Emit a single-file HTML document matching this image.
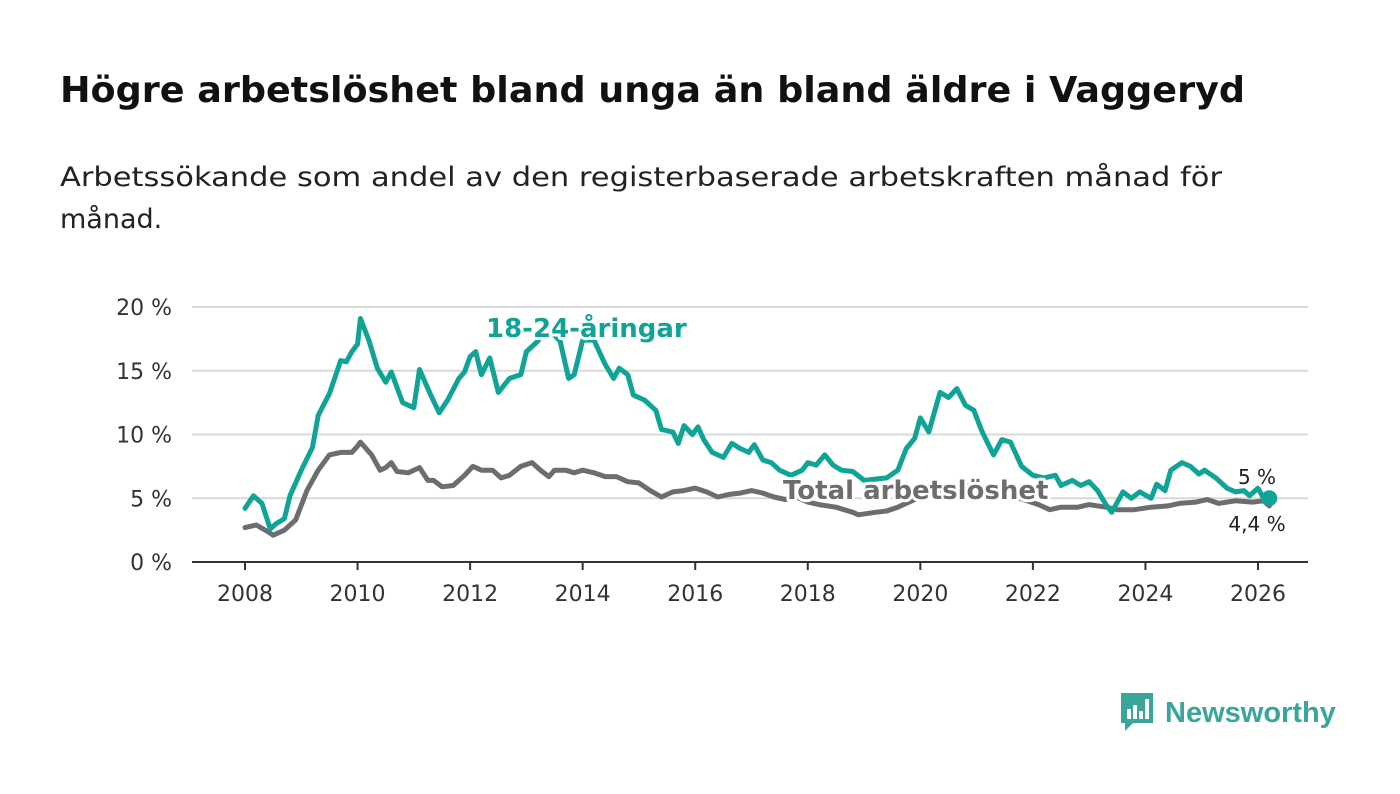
<!DOCTYPE html>
<html><head><meta charset="utf-8"><style>
body{margin:0;width:1400px;height:794px;background:#fff;font-family:"DejaVu Sans","Liberation Sans",sans-serif;overflow:hidden;position:relative}
svg text{font-family:"DejaVu Sans","Liberation Sans",sans-serif}
</style></head><body>
<svg width="1400" height="240" style="position:absolute;left:0;top:0">
<text x="60" y="102" font-size="36" font-weight="bold" fill="#111" textLength="1185" lengthAdjust="spacingAndGlyphs">Högre arbetslöshet bland unga än bland äldre i Vaggeryd</text>
<text x="60" y="186" font-size="27" fill="#222" textLength="1162" lengthAdjust="spacingAndGlyphs">Arbetssökande som andel av den registerbaserade arbetskraften månad för</text>
<text x="60" y="228" font-size="27" fill="#222">månad.</text>
</svg>
<svg id="chart" width="1400" height="794" style="position:absolute;left:0;top:0"></svg>
<div style="position:absolute;left:1119px;top:691px;height:44px;display:flex;align-items:center">
<svg width="36" height="44"><path d="M2 2h32v30H14l-8 8v-8H2z" fill="#3aa59a"/><rect x="8" y="18" width="4" height="10" fill="#fff"/><rect x="14" y="14" width="4" height="14" fill="#fff"/><rect x="20" y="20" width="4" height="8" fill="#fff"/><rect x="26" y="8" width="4" height="20" fill="#fff"/></svg>
<span style="margin-left:10px;font-family:'Liberation Sans',sans-serif;font-size:29px;font-weight:bold;color:#3aa59a">Newsworthy</span></div>
<script>
const yTicks=[0,5,10,15,20];
const xTicks=[2008,2010,2012,2014,2016,2018,2020,2022,2024,2026];
const youthDates=[2008.0,2008.15,2008.3,2008.45,2008.55,2008.7,2008.8,2009.0,2009.2,2009.3,2009.5,2009.7,2009.8,2009.9,2010.0,2010.05,2010.2,2010.35,2010.5,2010.6,2010.8,2011.0,2011.1,2011.3,2011.45,2011.6,2011.8,2011.9,2012.0,2012.1,2012.2,2012.35,2012.5,2012.7,2012.9,2013.0,2013.2,2013.35,2013.6,2013.75,2013.85,2014.0,2014.2,2014.4,2014.55,2014.65,2014.8,2014.9,2015.1,2015.3,2015.4,2015.6,2015.7,2015.8,2015.95,2016.05,2016.15,2016.3,2016.5,2016.65,2016.8,2016.95,2017.05,2017.2,2017.35,2017.5,2017.7,2017.9,2018.0,2018.15,2018.3,2018.45,2018.6,2018.8,2019.0,2019.4,2019.6,2019.75,2019.9,2020.0,2020.15,2020.35,2020.5,2020.65,2020.8,2020.95,2021.1,2021.3,2021.45,2021.6,2021.8,2022.0,2022.2,2022.4,2022.5,2022.7,2022.85,2023.0,2023.15,2023.3,2023.4,2023.6,2023.75,2023.9,2024.1,2024.2,2024.35,2024.45,2024.65,2024.8,2024.95,2025.05,2025.25,2025.45,2025.6,2025.75,2025.85,2026.0,2026.1,2026.2];
const youthValues=[4.2,5.2,4.6,2.6,3.0,3.4,5.2,7.2,9,11.5,13.2,15.8,15.7,16.5,17.1,19.1,17.4,15.2,14.1,14.9,12.5,12.1,15.1,13.1,11.7,12.7,14.4,14.9,16.1,16.5,14.7,16,13.3,14.4,14.7,16.5,17.3,18.5,17.3,14.4,14.7,17.4,17.4,15.5,14.4,15.2,14.7,13.1,12.7,11.9,10.4,10.2,9.3,10.7,10,10.6,9.6,8.6,8.2,9.3,8.9,8.6,9.2,8,7.8,7.2,6.8,7.2,7.8,7.6,8.4,7.6,7.2,7.1,6.4,6.6,7.2,8.9,9.7,11.3,10.2,13.3,12.9,13.6,12.3,11.9,10.2,8.4,9.6,9.4,7.5,6.8,6.6,6.8,6,6.4,6,6.3,5.6,4.5,3.9,5.5,5,5.5,5,6.1,5.6,7.2,7.8,7.5,6.9,7.2,6.6,5.8,5.5,5.6,5.2,5.8,5.0,5.0];
const totalDates=[2008.0,2008.2,2008.4,2008.5,2008.7,2008.9,2009.1,2009.3,2009.5,2009.7,2009.9,2010.0,2010.05,2010.25,2010.4,2010.5,2010.6,2010.7,2010.9,2011.1,2011.25,2011.35,2011.5,2011.7,2011.9,2012.05,2012.2,2012.4,2012.55,2012.7,2012.9,2013.1,2013.25,2013.4,2013.5,2013.7,2013.85,2014.0,2014.2,2014.4,2014.6,2014.8,2015.0,2015.2,2015.4,2015.6,2015.8,2016.0,2016.2,2016.4,2016.6,2016.8,2017.0,2017.2,2017.4,2017.6,2017.8,2018.0,2018.2,2018.5,2018.8,2018.9,2019.2,2019.4,2019.6,2019.9,2020.3,2020.7,2021.2,2021.7,2022.1,2022.3,2022.5,2022.8,2023.0,2023.3,2023.5,2023.8,2024.1,2024.4,2024.6,2024.9,2025.1,2025.3,2025.6,2025.9,2026.1,2026.2];
const totalValues=[2.7,2.9,2.4,2.1,2.5,3.3,5.6,7.2,8.4,8.6,8.6,9.1,9.4,8.4,7.2,7.4,7.8,7.1,7,7.4,6.4,6.4,5.9,6,6.8,7.5,7.2,7.2,6.6,6.8,7.5,7.8,7.2,6.7,7.2,7.2,7,7.2,7,6.7,6.7,6.3,6.2,5.6,5.1,5.5,5.6,5.8,5.5,5.1,5.3,5.4,5.6,5.4,5.1,4.9,5.1,4.7,4.5,4.3,3.9,3.7,3.9,4.0,4.3,4.9,5.6,6,5.8,5.1,4.5,4.1,4.3,4.3,4.5,4.3,4.1,4.1,4.3,4.4,4.6,4.7,4.9,4.6,4.8,4.7,4.8,4.4];
const NS='http://www.w3.org/2000/svg';
const svg=document.getElementById('chart');
const x=v=>245+(v-2008)*(1258-245)/18;
const y=v=>562-v*(562-307)/20;
function mk(t,a){const e=document.createElementNS(NS,t);for(const k in a)e.setAttribute(k,a[k]);svg.appendChild(e);return e;}
yTicks.forEach(t=>{
 if(t>0){const g=mk('line',{x1:192,x2:1308,y1:y(t),y2:y(t),stroke:'#d9d9d9','stroke-width':2});
 
 }
 const l=mk('text',{x:172,y:y(t)+8,'text-anchor':'end','font-size':22,fill:'#333'});l.textContent=t+' %';
 
 
});
const ax=mk('line',{x1:192,x2:1308,y1:562,y2:562,stroke:'#333','stroke-width':2});


xTicks.forEach(t=>{
 const tk=mk('line',{x1:x(t),x2:x(t),y1:562,y2:570,stroke:'#333','stroke-width':2});
 
 
 const l=mk('text',{x:x(t),y:601,'text-anchor':'middle','font-size':22,fill:'#333'});l.textContent=t;
 
 
});
function line(d,v,c,name){const p=mk('path',{d:d.map((t,i)=>(i?'L':'M')+x(t).toFixed(1)+','+y(v[i]).toFixed(1)).join(''),fill:'none',stroke:c,'stroke-width':5,'stroke-linejoin':'round','stroke-linecap':'round'});
 
 }
line(totalDates,totalValues,'#6d6c6e','total-line');
line(youthDates,youthValues,'#10a497','youth-line');
const n=youthDates.length-1;
const dot=mk('circle',{cx:x(youthDates[n]),cy:y(youthValues[n]),r:8,fill:'#10a497'});


function lab(tx,xx,yy,c,sz,w,name,anchor){const t=mk('text',{x:xx,y:yy,fill:c,'font-size':sz,'font-weight':w,'text-anchor':anchor||'start',stroke:'#fff','stroke-width':6,'paint-order':'stroke','stroke-linejoin':'round'});t.textContent=tx;
 
 }
lab('18-24-åringar',486,337,'#10a497',26,'bold','youth-series-label');
lab('Total arbetslöshet',783,499,'#6d6c6e',26,'bold','total-series-label');
lab('5 %',1257,484,'#222',20,'normal','youth-end-value','middle');
lab('4,4 %',1257,531,'#222',20,'normal','total-end-value','middle');
</script>
</body></html>
